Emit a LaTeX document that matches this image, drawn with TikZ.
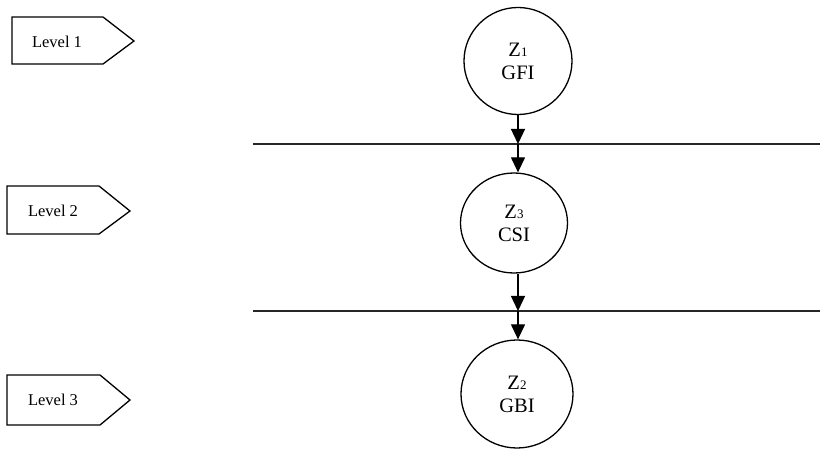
\documentclass[tikz,border=0pt]{standalone}
\usepackage{fontspec}
\setmainfont{Liberation Serif}
\usetikzlibrary{shapes.geometric,arrows.meta}
\begin{document}
\begin{tikzpicture}[x=1pt,y=-1pt,
  lw/.style={line width=1.3pt},
  state/.style={ellipse,draw,lw,inner sep=0pt,align=center,
    font=\fontsize{20.5}{23}\selectfont},
  lvltext/.style={font=\fontsize{16.5}{19}\selectfont,inner sep=0pt},
  tag/.style={draw,lw,line join=miter},
  sep/.style={line width=1.5pt,draw=black!85},
  flow/.style={lw,-{Triangle[length=15pt,width=14pt]}}]
\useasboundingbox (0,0) rectangle (823,449);
% level tags
\draw[tag] (12,17) -- (103,17) -- (134,41) -- (103,64) -- (12,64) -- cycle;
\node[lvltext] (t1) at (57,42) {Level 1};
\draw[tag] (7,186) -- (99,186) -- (130,211) -- (99,234) -- (7,234) -- cycle;
\node[lvltext] (t2) at (53,211) {Level 2};
\draw[tag] (7,375) -- (100,375) -- (130,400) -- (100,425) -- (7,425) -- cycle;
\node[lvltext] (t3) at (53,400) {Level 3};
% separator lines
\coordinate (l1a) at (253,144); \coordinate (l1b) at (820,144);
\coordinate (l2a) at (253,311); \coordinate (l2b) at (820,311);
\draw[sep] (l1a) -- (l1b);
\draw[sep] (l2a) -- (l2b);
% states
\node[state,minimum width=108pt,minimum height=107pt] (c1) at (518,61)
  {Z{\fontsize{13}{13}\selectfont 1}\\GFI};
\node[state,minimum width=107pt,minimum height=100pt] (c3) at (514,223)
  {Z{\fontsize{13}{13}\selectfont 3}\\CSI};
\node[state,minimum width=112pt,minimum height=108pt] (c2) at (517,394)
  {Z{\fontsize{13}{13}\selectfont 2}\\GBI};
% arrows
\coordinate (m1) at (518,144);
\coordinate (m2) at (518,311);
\draw[flow] (c1.south -| m1) -- (m1);
\draw[flow] (m1) -- (m1 |- c3.north);
\draw[flow] (m2 |- c3.south) -- (m2);
\draw[flow] (m2) -- (m2 |- c2.north);
\end{tikzpicture}
\end{document}
